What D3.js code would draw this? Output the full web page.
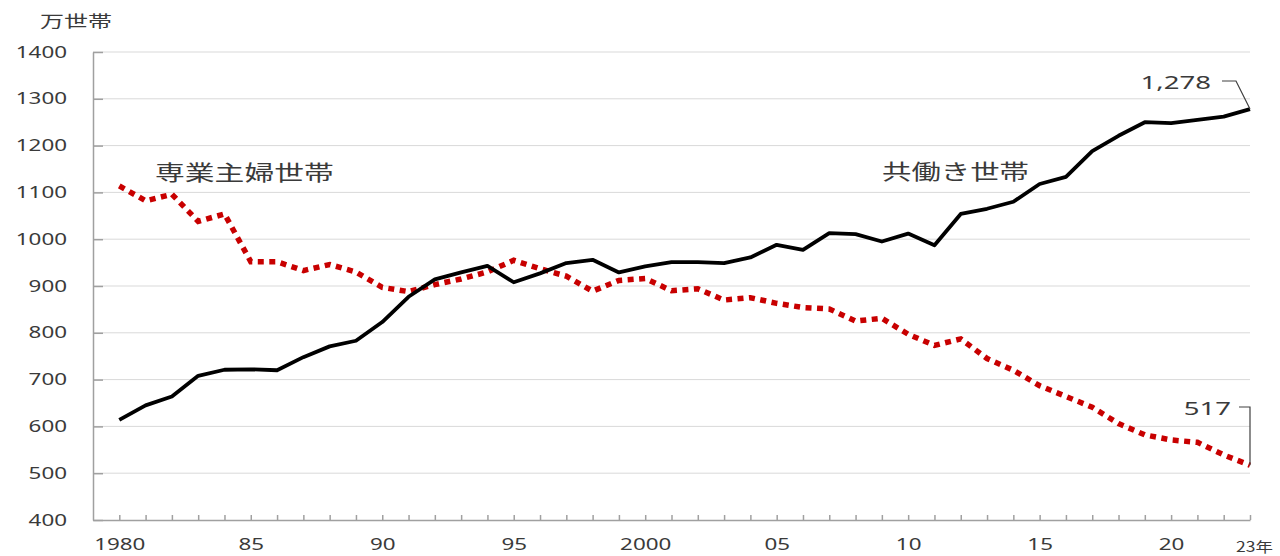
<!DOCTYPE html>
<html>
<meta charset="utf-8">
<style type="text/css">
	body { margin: 0; background: #fff; }
	text { font-family: "Noto Sans", "Noto Sans CJK JP", sans-serif; fill: #3a3a3a; }
	.jp { font-family: "Noto Sans CJK JP", sans-serif; }
	.grid line { stroke: #d9d9d9; stroke-width: 1px; }
	.axis path, .axis line { stroke: #a0a0a0; stroke-width: 1.5px; }
</style>
<svg width="1280" height="556"></svg>
<script src="https://cdnjs.cloudflare.com/ajax/libs/d3/7.8.5/d3.min.js"></script>
<script>
	// 1980 .. 2023
	var years = d3.range(1980, 2024);

	// 共働き世帯 (万世帯)
	var dualIncome = [614, 645, 664, 708, 721, 722, 720, 748, 771, 783,
		823, 877, 914, 929, 943, 908, 927, 949, 956, 929,
		942, 951, 951, 949, 961, 988, 977, 1013, 1011, 995,
		1012, 987, 1054, 1065, 1080, 1118, 1133, 1188, 1221, 1250,
		1248, 1255, 1262, 1278];

	// 専業主婦世帯 (万世帯)
	var housewife = [1114, 1082, 1096, 1038, 1054, 952, 952, 933, 946, 930,
		897, 888, 903, 915, 930, 955, 937, 921, 889, 912,
		916, 890, 894, 870, 875, 863, 854, 851, 825, 831,
		797, 773, 787, 745, 720, 687, 664, 641, 606, 582,
		571, 566, 539, 517];

	var yTicks = [400, 500, 600, 700, 800, 900, 1000, 1100, 1200, 1300, 1400];
	var xLabels = {1980: '1980', 1985: '85', 1990: '90', 1995: '95', 2000: '2000',
		2005: '05', 2010: '10', 2015: '15', 2020: '20', 2023: '23年'};

	var sx = 1.4; // the original picture is stretched sideways

	var svg = d3.select('svg');

	var x = d3.scaleLinear().domain([1979, 2023]).range([93, 1250]);
	var y = d3.scaleLinear().domain([400, 1400]).range([520, 52]);

	// grid
	svg.append('g').attr('class', 'grid')
		.selectAll('line')
		.data(yTicks.slice(1))
		.enter().append('line')
			.attr('x1', x(1979)).attr('x2', x(2023))
			.attr('y1', (d) => y(d)).attr('y2', (d) => y(d));

	// y axis
	var yAxis = svg.append('g').attr('class', 'axis')
		.attr('transform', 'translate(' + x(1979) + ',0)')
		.call(d3.axisLeft(y).tickValues(yTicks).tickFormat(d3.format('d'))
			.tickSize(-10).tickSizeOuter(0).tickPadding(0));
	yAxis.selectAll('text')
		.attr('x', -26 / sx)
		.attr('transform', 'scale(' + sx + ',1)')
		.style('font-size', '16px');

	// x axis
	var xAxis = svg.append('g').attr('class', 'axis')
		.attr('transform', 'translate(0,' + y(400) + ')')
		.call(d3.axisBottom(x).tickValues(years).tickSize(-5).tickSizeOuter(0).tickPadding(19)
			.tickFormat((d) => xLabels[d] || ''));
	xAxis.selectAll('text')
		.attr('transform', 'scale(' + sx + ',1)')
		.style('font-size', '16px');
	xAxis.selectAll('.tick').filter((d) => d === 2023).select('text')
		.attr('class', 'jp')
		.attr('y', 22)
		.attr('transform', 'translate(4,0) scale(1.25,1)')
		.style('font-size', '14px');

	var line = (vals) => d3.line()
		.x((d, i) => x(years[i]))
		.y((d) => y(d))(vals);

	svg.append('path')
		.attr('d', line(housewife))
		.attr('fill', 'none')
		.attr('stroke', '#c80000')
		.attr('stroke-width', 5.5)
		.attr('stroke-dasharray', '6,5.5');

	svg.append('path')
		.attr('d', line(dualIncome))
		.attr('fill', 'none')
		.attr('stroke', '#000')
		.attr('stroke-width', 3.8)
		.attr('stroke-linejoin', 'round');

	function label(txt, px, py, size, scale, anchor, cls) {
		svg.append('text')
			.attr('class', cls || null)
			.attr('transform', 'translate(' + px + ',' + py + ') scale(' + scale + ',1)')
			.attr('text-anchor', anchor || 'start')
			.attr('dy', '0.35em')
			.style('font-size', size + 'px')
			.text(txt);
	}

	label('万世帯', 40, 21, 16, 1.5, 'start', 'jp');
	label('専業主婦世帯', 155, 173, 21, 1.42, 'start', 'jp');
	label('共働き世帯', 882, 172, 21, 1.4, 'start', 'jp');
	label('1,278', 1211, 82, 19, 1.45, 'end');
	label('517', 1231, 408, 19, 1.45, 'end');

	// leader lines for the last values
	var last = years.length - 1;
	svg.append('path')
		.attr('d', 'M1222,81 L1236,81 L' + x(years[last]) + ',' + y(dualIncome[last]))
		.attr('fill', 'none').attr('stroke', '#404040').attr('stroke-width', 1.2);
	svg.append('path')
		.attr('d', 'M1239,407 L' + x(years[last]) + ',407 L' + x(years[last]) + ',' + y(housewife[last]))
		.attr('fill', 'none').attr('stroke', '#404040').attr('stroke-width', 1.2);
</script>
</html>
